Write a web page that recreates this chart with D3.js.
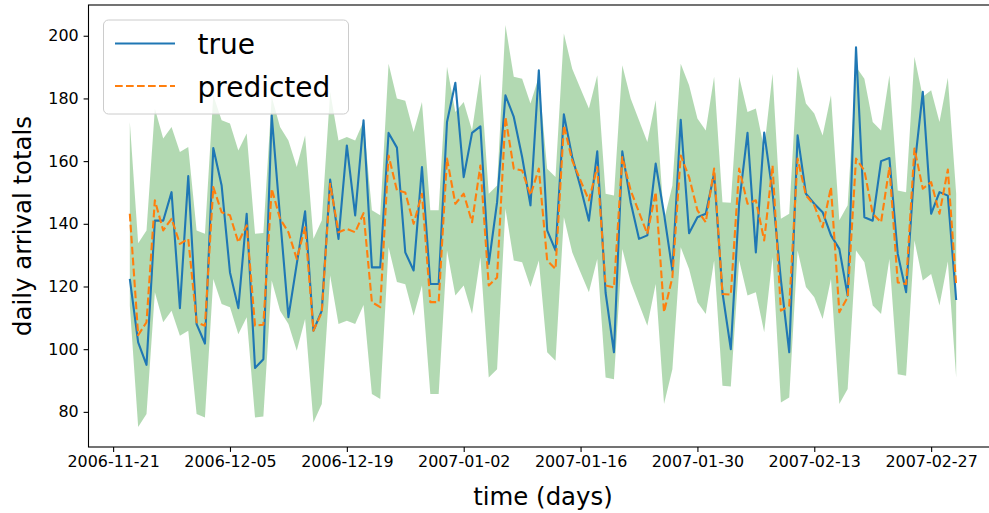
<!DOCTYPE html>
<html>
<head>
<meta charset="utf-8">
<script src="https://cdn.jsdelivr.net/npm/d3@7"></script>
<style>
  html, body { margin: 0; padding: 0; background: #fff; }
  svg { display: block; }
  text { font-family: "DejaVu Sans", sans-serif; }
</style>
</head>
<body>
<svg id="chart" width="989" height="513"></svg>
<script>
// ---- data ----
const startDate = "2006-11-23"; // first daily observation

const trueValues = [
  122.4,102.2,95.0,141.0,141.0,150.1,113.1,155.2,108.0,101.8,
  164.2,152.2,124.5,113.1,143.2,94.0,96.8,174.6,142.1,110.2,
  127.2,144.0,105.9,112.3,154.1,135.2,165.0,142.7,173.0,126.1,
  126.1,169.0,164.3,130.9,125.1,158.1,120.8,120.8,172.5,185.0,
  154.9,169.0,171.1,127.2,146.9,181.0,174.1,161.3,145.9,189.0,
  137.9,131.5,174.9,161.3,151.7,141.0,163.1,118.0,99.0,163.1,
  146.9,135.2,136.3,159.2,143.2,125.1,173.2,137.0,142.1,143.2,
  156.0,118.0,100.0,146.5,169.0,130.9,169.1,150.0,122.0,99.0,
  168.2,149.6,146.4,143.7,136.3,132.0,117.1,196.3,142.1,141.0,
  160.0,161.0,130.4,118.2,158.0,182.1,143.2,150.1,149.0,115.7
];

const predictedValues = [
  143.2,104.5,108.6,147.5,137.9,141.6,133.6,135.2,108.6,107.5,
  151.7,143.7,142.7,134.1,139.5,107.5,107.8,151.2,141.6,137.3,
  128.8,138.9,105.9,111.8,152.8,137.3,138.4,137.3,143.4,115.0,
  113.4,161.8,150.7,150.0,140.0,149.6,115.0,115.0,160.8,146.4,
  149.6,140.5,158.6,120.3,122.9,174.1,157.6,157.0,149.1,157.6,
  128.3,125.6,171.4,160.2,153.8,147.5,158.1,120.3,119.7,161.3,
  150.7,143.7,136.8,150.1,111.8,122.9,161.8,154.9,144.3,140.5,
  157.6,117.6,117.4,157.6,146.4,147.5,134.7,158.6,112.3,113.9,
  160.8,149.1,145.9,138.9,151.7,111.8,116.6,160.8,157.0,143.2,
  140.5,158.1,121.3,120.8,164.0,151.2,153.3,143.2,157.3,120.3
];

const upperValues = [
  172.5,133.8,137.9,176.8,167.2,170.9,162.9,164.5,137.9,136.8,
  181.0,173.0,172.0,163.4,168.8,136.8,137.1,180.5,170.9,166.6,
  158.1,168.2,135.2,141.1,182.1,166.6,167.7,166.6,172.7,144.3,
  142.7,191.1,180.0,179.3,169.3,178.9,144.3,144.3,190.1,175.7,
  178.9,169.8,187.9,149.6,152.2,203.4,186.9,186.3,178.4,186.9,
  157.6,154.9,200.7,189.5,183.1,176.8,187.4,149.6,149.0,190.6,
  180.0,173.0,166.1,179.4,141.1,152.2,191.1,184.2,173.6,169.8,
  186.9,146.9,146.7,186.9,175.7,176.8,164.0,187.9,141.6,143.2,
  190.1,178.4,175.2,168.2,181.0,141.1,145.9,190.1,186.3,172.5,
  169.8,187.4,150.6,150.1,193.3,180.5,182.6,172.5,186.6,149.6
];

const lowerValues = [
  113.9,75.2,79.3,118.2,108.6,112.3,104.3,105.9,79.3,78.2,
  122.4,114.4,113.4,104.8,110.2,78.2,78.5,121.9,112.3,108.0,
  99.5,109.6,76.6,82.5,123.5,108.0,109.1,108.0,114.1,85.7,
  84.1,132.5,121.4,120.7,110.7,120.3,85.7,85.7,131.5,117.1,
  120.3,111.2,129.3,91.0,93.6,144.8,128.3,127.7,119.8,128.3,
  99.0,96.3,142.1,130.9,124.5,118.2,128.8,91.0,90.4,132.0,
  121.4,114.4,107.5,120.8,82.5,93.6,132.5,125.6,115.0,111.2,
  128.3,88.3,88.1,128.3,117.1,118.2,105.4,129.3,83.0,84.6,
  131.5,119.8,116.6,109.6,122.4,82.5,87.3,131.5,127.7,113.9,
  111.2,128.8,92.0,91.5,134.7,121.9,124.0,113.9,128.0,91.0
];

const xTickLabels = ["2006-11-21","2006-12-05","2006-12-19","2007-01-02",
                     "2007-01-16","2007-01-30","2007-02-13","2007-02-27"];
const yTickLabels = [80, 100, 120, 140, 160, 180, 200];
const seriesNames = ["true", "predicted"];
const xLabel = "time (days)";
const yLabel = "daily arrival totals";

// ---- build ----
(function () {
  const parse = d3.utcParse("%Y-%m-%d");
  const t0 = parse(startDate);
  const rows = trueValues.map((v, i) => ({
    date: d3.utcDay.offset(t0, i),
    trueV: v,
    pred: predictedValues[i],
    hi: upperValues[i],
    lo: lowerValues[i]
  }));

  const svg = d3.select("#chart");
  const pL = 88.5, pR = 997.5, pT = 5, pB = 447;

  // x: 5% margins around the data range
  const first = rows[0].date, last = rows[rows.length - 1].date;
  const spanMs = last - first;
  const x = d3.scaleUtc()
    .domain([new Date(+first - spanMs * 0.05), new Date(+last + spanMs * 0.05)])
    .range([pL, pR]);

  const yMin = d3.min(lowerValues), yMax = d3.max(upperValues);
  const yPad = (yMax - yMin) * 0.05;
  const y = d3.scaleLinear()
    .domain([yMin - yPad, yMax + yPad])
    .range([pB, pT]);

  // band
  svg.append("path")
    .datum(rows)
    .attr("fill", "#008000")
    .attr("fill-opacity", 0.3)
    .attr("d", d3.area().x(d => x(d.date)).y0(d => y(d.lo)).y1(d => y(d.hi)));

  // true line
  svg.append("path")
    .datum(rows)
    .attr("fill", "none")
    .attr("stroke", "#1f77b4")
    .attr("stroke-width", 2.1)
    .attr("stroke-linejoin", "round")
    .attr("d", d3.line().x(d => x(d.date)).y(d => y(d.trueV)));

  // predicted line
  svg.append("path")
    .datum(rows)
    .attr("fill", "none")
    .attr("stroke", "#ff7f0e")
    .attr("stroke-width", 2.1)
    .attr("stroke-dasharray", "7.7,3.3")
    .attr("stroke-linejoin", "round")
    .attr("d", d3.line().x(d => x(d.date)).y(d => y(d.pred)));

  // axes
  const xAxis = d3.axisBottom(x)
    .tickValues(xTickLabels.map(parse))
    .tickFormat(d3.utcFormat("%Y-%m-%d"))
    .tickSize(4.9).tickPadding(4.2);
  const gx = svg.append("g").attr("transform", `translate(0,${pB})`).call(xAxis);
  gx.select(".domain").remove();
  gx.selectAll(".tick line").attr("stroke", "#000").attr("stroke-width", 1.1);
  gx.selectAll(".tick text").attr("font-size", "15.9px").attr("fill", "#000")
    .attr("font-family", "DejaVu Sans");

  const yAxis = d3.axisLeft(y).tickValues(yTickLabels).tickSize(4.9).tickPadding(4.9);
  const gy = svg.append("g").attr("transform", `translate(${pL},0)`).call(yAxis);
  gy.select(".domain").remove();
  gy.selectAll(".tick line").attr("stroke", "#000").attr("stroke-width", 1.1);
  gy.selectAll(".tick text").attr("font-size", "15.9px").attr("fill", "#000")
    .attr("font-family", "DejaVu Sans");

  // spines
  svg.append("rect")
    .attr("x", pL).attr("y", pT)
    .attr("width", pR - pL).attr("height", pB - pT)
    .attr("fill", "none").attr("stroke", "#000").attr("stroke-width", 1.1);

  // axis labels
  svg.append("text")
    .attr("x", (pL + pR) / 2).attr("y", 505)
    .attr("text-anchor", "middle").attr("font-size", "24.4px").attr("fill", "#000")
    .text(xLabel);
  svg.append("text")
    .attr("transform", `translate(30.5,${(pT + pB) / 2}) rotate(-90)`)
    .attr("text-anchor", "middle").attr("font-size", "24.4px").attr("fill", "#000")
    .text(yLabel);

  // legend
  const lg = svg.append("g");
  lg.append("rect")
    .attr("x", 103.5).attr("y", 20).attr("width", 245).attr("height", 94)
    .attr("rx", 5).attr("ry", 5)
    .attr("fill", "#fff").attr("fill-opacity", 0.8)
    .attr("stroke", "#cccccc").attr("stroke-width", 1);
  const legendItems = [
    { name: seriesNames[0], color: "#1f77b4", dash: null, ly: 43.5, base: 53.5 },
    { name: seriesNames[1], color: "#ff7f0e", dash: "7.7,3.3", ly: 86, base: 96.5 }
  ];
  legendItems.forEach(it => {
    lg.append("line")
      .attr("x1", 115).attr("x2", 175).attr("y1", it.ly).attr("y2", it.ly)
      .attr("stroke", it.color).attr("stroke-width", 2.1)
      .attr("stroke-dasharray", it.dash);
    lg.append("text")
      .attr("x", 197.5).attr("y", it.base)
      .attr("font-size", "28px").attr("fill", "#000")
      .text(it.name);
  });
})();
</script>
</body>
</html>
